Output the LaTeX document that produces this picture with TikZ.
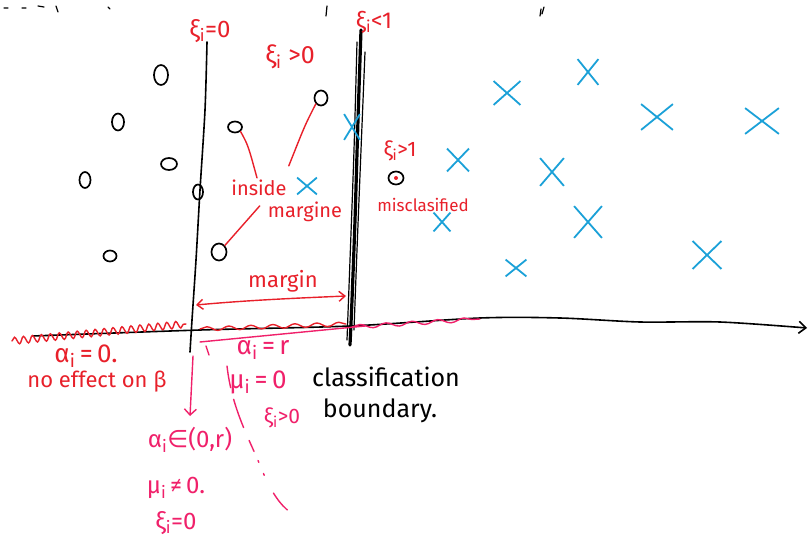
\documentclass[tikz,border=0pt]{standalone}
\usepackage{fontspec}
\setmainfont{Fira Sans}
\newfontfamily\dejavu{DejaVu Sans}
\newcommand\sbi{\textsubscript{i}}
\usetikzlibrary{arrows.meta,shapes.misc,shapes.geometric,decorations.pathmorphing}
\definecolor{hred}{HTML}{E8202A}
\definecolor{hpink}{HTML}{F0206A}
\definecolor{hblue}{HTML}{1BA1D8}
\begin{document}
\begin{tikzpicture}[x=1pt,y=-1pt,
  pt/.style={ellipse,draw=black,line width=1.7pt,minimum width=12pt,minimum height=14pt,inner sep=0pt},
  xm/.style={cross out,draw=hblue,line width=1.8pt,minimum width=22pt,minimum height=22pt,inner sep=0pt},
  rlab/.style={text=hred,inner sep=0pt,font=\fontsize{20}{20}\selectfont},
  plab/.style={text=hpink,inner sep=0pt,font=\fontsize{24}{24}\selectfont},
  blab/.style={text=black,inner sep=0pt,font=\fontsize{25}{25}\selectfont},
  rline/.style={draw=hred,line width=1.4pt,line cap=round},
  pline/.style={draw=hpink,line width=1.4pt,line cap=round},
  kline/.style={draw=black,line width=1.6pt,line cap=round},
  squig/.style={decorate,decoration={snake,amplitude=#1,segment length=9pt}}]
\useasboundingbox[fill=white] (0,0) rectangle (809,548);

% stray marks at the top edge
\draw[kline,line width=1.2pt] (4,8) -- (8,8) (22,8) -- (26,8) (38,6) -- (44,7) (56,6) -- (58,12) (108,7) -- (110,9) (327,6) -- (326,16) (541,9) -- (540,16) (544,7) -- (542,14);

% margin line (xi=0) and classification boundary
\draw[kline] plot[smooth] coordinates {(207,42) (205,110) (200,190) (196,260) (192,320) (190,352)};
\draw[kline,line width=3.2pt] plot[smooth] coordinates {(361,30) (358,120) (355,220) (352,300) (350,345)};
\draw[kline,line width=1.2pt] plot[smooth] coordinates {(365,52) (361,150) (357,250) (354,330)};
\draw[kline,line width=1.2pt] plot[smooth] coordinates {(357,42) (354,150) (350,260) (347,340)};

% horizontal axis
\coordinate (axs) at (33,336);
\coordinate (axe) at (807,328);
\draw[kline,-{Straight Barb[length=7pt,width=12pt]}] plot[smooth] coordinates {(axs) (200,330) (350,326) (480,318) (560,318) (640,322) (720,322) (axe)};

% red squiggles along the axis
\draw[rline,squig=3.5pt] (12,341) -- (186,324);
\draw[rline,decorate,decoration={snake,amplitude=2pt,segment length=22pt}] (200,329) -- (346,324);
\draw[pline,decorate,decoration={snake,amplitude=2pt,segment length=26pt}] (352,327) -- (480,319);
\draw[pline] (200,342) -- (365,326);

% black data points
\node[pt,minimum width=14pt,minimum height=20pt] (c1) at (161,75) {};
\node[pt,minimum width=12pt,minimum height=17pt] (c2) at (118,122) {};
\node[pt,minimum width=16pt,minimum height=12pt] (c3) at (169,164) {};
\node[pt,minimum width=11pt,minimum height=16pt] (c4) at (85,180) {};
\node[pt,minimum width=13pt,minimum height=11pt] (c5) at (110,256) {};
\node[pt,minimum width=10pt,minimum height=15pt] (c6) at (198,192) {};
\node[pt,minimum width=14pt,minimum height=11pt] (c7) at (235,127) {};
\node[pt,minimum width=13pt,minimum height=15pt] (c8) at (321,98) {};
\node[pt,minimum width=15pt,minimum height=17pt] (c9) at (219,252) {};
\node[pt,minimum width=15pt,minimum height=13pt] (c10) at (396,178) {};
\fill[hred] (c10.center) circle (2pt);

% blue crosses
\node[xm,minimum width=14pt,minimum height=24pt] (x1) at (352,127) {};
\node[xm,minimum width=18pt,minimum height=15pt] (x2) at (307,186) {};
\node[xm,minimum width=20pt,minimum height=21pt] (x3) at (458,160) {};
\node[xm,minimum width=25pt,minimum height=22pt] (x4) at (507,93) {};
\node[xm,minimum width=19pt,minimum height=24pt] (x5) at (588,72) {};
\node[xm,minimum width=30pt,minimum height=24pt] (x6) at (657,117) {};
\node[xm,minimum width=32pt,minimum height=24pt] (x7) at (762,121) {};
\node[xm,minimum width=22pt,minimum height=26pt] (x8) at (552,172) {};
\node[xm,minimum width=26pt,minimum height=30pt] (x9) at (588,222) {};
\node[xm,minimum width=15pt,minimum height=17pt] (x10) at (442,222) {};
\node[xm,minimum width=19pt,minimum height=15pt] (x11) at (516,268) {};
\node[xm,minimum width=27pt,minimum height=26pt] (x12) at (707,255) {};

% upper labels
\node[rlab,font=\fontsize{24}{24}\selectfont] (l1) at (210,31) {ξ\sbi=0};
\node[rlab,font=\fontsize{25}{25}\selectfont] (l2) at (290,57) {ξ\sbi\ >0};
\node[rlab,font=\fontsize{23}{23}\selectfont] (l3) at (374,22) {ξ\sbi<1};
\node[rlab,font=\fontsize{21}{21}\selectfont] (l4) at (400,151) {ξ\sbi>1};
\node[rlab] (inside) at (259,188) {inside};
\node[rlab] (margine) at (305,212) {margine};
\node[rlab,font=\fontsize{17}{17}\selectfont] (miscl) at (423,205) {misclasified};
\node[rlab,font=\fontsize{22}{22}\selectfont] (mlab) at (283,281) {margin};

% pointers to the points
\draw[rline] (c7.south east) .. controls (248,145) .. ([xshift=-2pt,yshift=2pt]inside.north);
\draw[rline] (c8.south west) .. controls (305,125) .. ([xshift=2pt,yshift=14pt]inside.north east);
\draw[rline] ([xshift=-8pt,yshift=-4pt]margine.north west) -- (c9.north east);

% margin arrow
\coordinate (ma) at (196,305);
\coordinate (mb) at (346,296);
\draw[rline,{Straight Barb[length=6pt,width=10pt]}-{Straight Barb[length=6pt,width=10pt]}] (ma) .. controls (250,300) and (300,298) .. (mb);

% lower labels
\node[rlab,font=\fontsize{26}{26}\selectfont] (a0) at (86,356) {α\sbi\,=\,0.};
\node[rlab,font=\fontsize{22}{22}\selectfont] (noeff) at (97,382) {no effect on β};
\node[plab,font=\fontsize{26}{26}\selectfont] (ar) at (263,350) {α\sbi\,=\,r};
\node[plab,font=\fontsize{26}{26}\selectfont] (mu0) at (258,382) {μ\sbi\,=\,0};
\node[plab,font=\fontsize{21}{21}\selectfont] (xig) at (282,418) {ξ\sbi>0};
\node[blab] (cls) at (386,377) {classification};
\node[blab] (bnd) at (380,411) {boundary.};
\node[plab] (ain) at (190,440) {α\sbi{\dejavu∈}(0,r)};
\node[plab] (mun) at (176,488) {μ\sbi\,≠\,0.};
\node[plab] (xi0) at (176,523) {ξ\sbi=0};

% downward arrow and dashed continuation
\coordinate (da) at (193,356);
\coordinate (db) at (190,416);
\draw[pline,-{Straight Barb[length=6pt,width=12pt]}] (da) -- (db);
\draw[pline] (206,346) -- (209,355);
\draw[pline,dash pattern=on 22pt off 12pt on 30pt off 14pt on 12pt off 10pt on 2pt off 12pt on 2pt off 20pt] (227,366) .. controls (232,410) and (250,440) .. (262,470) .. controls (270,490) and (280,505) .. (290,512);
\end{tikzpicture}
\end{document}
